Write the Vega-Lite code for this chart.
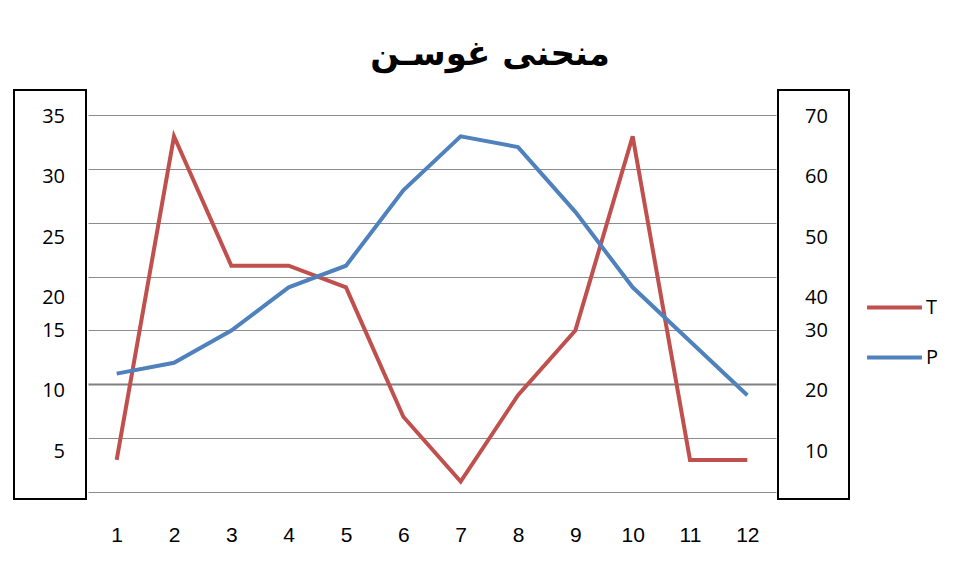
{
  "$schema": "https://vega.github.io/schema/vega-lite/v6.json",
  "padding": {"left": 13, "top": 38, "right": 0, "bottom": 0},
  "background": "white",
  "title": {"text": "منحنی غوسـن", "font": "DejaVu Sans", "fontSize": 34, "fontWeight": "bold", "color": "black", "anchor": "middle", "dx": 14, "offset": 17},
  "config": {"view": {"stroke": null}},
  "spacing": 1,
  "hconcat": [
    {
      "width": 72,
      "height": 409,
      "view": {"stroke": "black", "strokeWidth": 2},
      "data": {"values": [
        {"label": "35", "at": 34.79},
        {"label": "30", "at": 29.25},
        {"label": "25", "at": 23.57},
        {"label": "20", "at": 18.01},
        {"label": "15", "at": 14.92},
        {"label": "10", "at": 9.36},
        {"label": "5", "at": 3.78}
      ]},
      "mark": {"type": "text", "align": "right", "baseline": "middle", "fontSize": 20, "font": "Open Sans", "dx": 15, "color": "black"},
      "encoding": {
        "y": {"field": "at", "type": "quantitative", "scale": {"domain": [-0.621, 37.29], "nice": false, "zero": false}, "axis": null},
        "text": {"field": "label"}
      }
    },
    {
      "width": 688,
      "height": 409,
      "data": {"values": [
        {"month": 1, "series": "T", "value": 3},
        {"month": 2, "series": "T", "value": 33},
        {"month": 3, "series": "T", "value": 21},
        {"month": 4, "series": "T", "value": 21},
        {"month": 5, "series": "T", "value": 19},
        {"month": 6, "series": "T", "value": 7},
        {"month": 7, "series": "T", "value": 1},
        {"month": 8, "series": "T", "value": 9},
        {"month": 9, "series": "T", "value": 15},
        {"month": 10, "series": "T", "value": 33},
        {"month": 11, "series": "T", "value": 3},
        {"month": 12, "series": "T", "value": 3},
        {"month": 1, "series": "P", "value": 22},
        {"month": 2, "series": "P", "value": 24},
        {"month": 3, "series": "P", "value": 30},
        {"month": 4, "series": "P", "value": 38},
        {"month": 5, "series": "P", "value": 42},
        {"month": 6, "series": "P", "value": 56},
        {"month": 7, "series": "P", "value": 66},
        {"month": 8, "series": "P", "value": 64},
        {"month": 9, "series": "P", "value": 52},
        {"month": 10, "series": "P", "value": 38},
        {"month": 11, "series": "P", "value": 28},
        {"month": 12, "series": "P", "value": 18}
      ]},
      "encoding": {
        "x": {
          "field": "month", "type": "quantitative",
          "scale": {"domain": [0.5, 12.5], "nice": false, "zero": false},
          "axis": {"values": [1,2,3,4,5,6,7,8,9,10,11,12], "grid": false, "domain": false, "ticks": false, "title": null, "labelFont": "Liberation Sans", "labelFontSize": 21, "labelColor": "black", "labelPadding": 25}
        },
        "color": {
          "field": "series", "type": "nominal",
          "scale": {"domain": ["T", "P"], "range": ["#C0504D", "#4F81BD"]},
          "legend": {"orient": "none", "legendX": 854, "legendY": 191, "title": null, "symbolType": "M-1.12,0H1.12", "symbolSize": 2401, "symbolStrokeWidth": 4, "labelFont": "Open Sans", "labelFontSize": 20, "labelColor": "black", "labelOffset": 5, "rowPadding": 13, "padding": 0}
        }
      },
      "layer": [
        {
          "transform": [{"filter": "datum.series === 'T'"}],
          "mark": {"type": "line", "strokeWidth": 4},
          "encoding": {
            "y": {
              "field": "value", "type": "quantitative",
              "scale": {"domain": [-0.621, 37.29], "nice": false, "zero": false},
              "axis": {"values": [0,5,10,15,20,25,30,35], "labels": false, "ticks": false, "domain": false, "title": null, "grid": true, "gridColor": {"condition": {"test": "datum.value === 10", "value": "#808080"}, "value": "#8c8c8c"}, "gridWidth": {"condition": {"test": "datum.value === 10", "value": 2}, "value": 1}}
            }
          }
        },
        {
          "transform": [{"filter": "datum.series === 'P'"}],
          "mark": {"type": "line", "strokeWidth": 4},
          "encoding": {
            "y": {
              "field": "value", "type": "quantitative",
              "scale": {"domain": [-1.242, 74.58], "nice": false, "zero": false},
              "axis": null
            }
          }
        }
      ],
      "resolve": {"scale": {"y": "independent"}}
    },
    {
      "width": 71,
      "height": 409,
      "view": {"stroke": "black", "strokeWidth": 2},
      "data": {"values": [
        {"label": "70", "at": 69.58},
        {"label": "60", "at": 58.5},
        {"label": "50", "at": 47.14},
        {"label": "40", "at": 36.02},
        {"label": "30", "at": 29.84},
        {"label": "20", "at": 18.72},
        {"label": "10", "at": 7.56}
      ]},
      "mark": {"type": "text", "align": "center", "baseline": "middle", "fontSize": 20, "font": "Open Sans", "dx": 3, "color": "black"},
      "encoding": {
        "y": {"field": "at", "type": "quantitative", "scale": {"domain": [-1.242, 74.58], "nice": false, "zero": false}, "axis": null},
        "text": {"field": "label"}
      }
    }
  ]
}
